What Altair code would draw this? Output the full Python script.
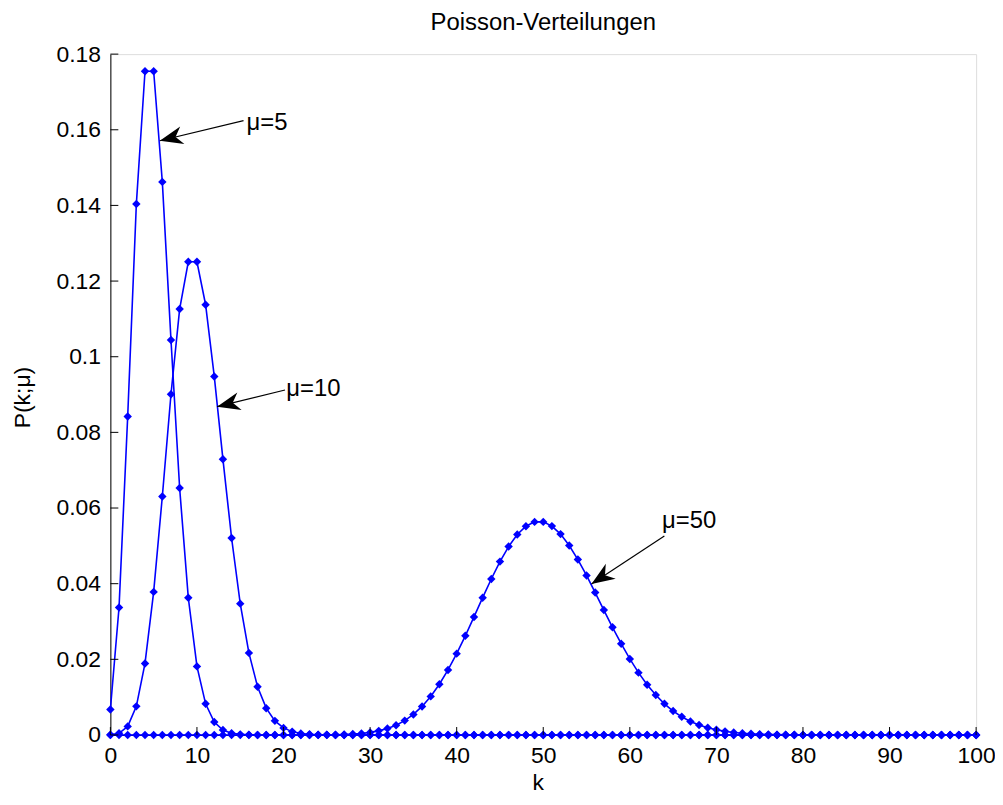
import math
import altair as alt
import pandas as pd

# ---------------- data ----------------
k_values = list(range(0, 101))

p_mu5 = [
    0.00674, 0.03369, 0.08422, 0.14037, 0.17547, 0.17547, 0.14622, 0.10444, 0.06528, 0.03627,
    0.01813, 0.00824, 0.00343, 0.00132, 0.00047, 0.00016, 0.00005, 0.00001, 0.0, 0.0,
    0.0, 0.0, 0.0, 0.0, 0.0, 0.0, 0.0, 0.0, 0.0, 0.0,
    0.0, 0.0, 0.0, 0.0, 0.0, 0.0, 0.0, 0.0, 0.0, 0.0,
    0.0, 0.0, 0.0, 0.0, 0.0, 0.0, 0.0, 0.0, 0.0, 0.0,
    0.0, 0.0, 0.0, 0.0, 0.0, 0.0, 0.0, 0.0, 0.0, 0.0,
    0.0, 0.0, 0.0, 0.0, 0.0, 0.0, 0.0, 0.0, 0.0, 0.0,
    0.0, 0.0, 0.0, 0.0, 0.0, 0.0, 0.0, 0.0, 0.0, 0.0,
    0.0, 0.0, 0.0, 0.0, 0.0, 0.0, 0.0, 0.0, 0.0, 0.0,
    0.0, 0.0, 0.0, 0.0, 0.0, 0.0, 0.0, 0.0, 0.0, 0.0,
    0.0,
]

p_mu10 = [
    0.00005, 0.00045, 0.00227, 0.00757, 0.01892, 0.03783, 0.06306, 0.09008, 0.11260, 0.12511,
    0.12511, 0.11374, 0.09478, 0.07291, 0.05208, 0.03472, 0.02170, 0.01276, 0.00709, 0.00373,
    0.00187, 0.00089, 0.00040, 0.00018, 0.00007, 0.00003, 0.00001, 0.0, 0.0, 0.0,
    0.0, 0.0, 0.0, 0.0, 0.0, 0.0, 0.0, 0.0, 0.0, 0.0,
    0.0, 0.0, 0.0, 0.0, 0.0, 0.0, 0.0, 0.0, 0.0, 0.0,
    0.0, 0.0, 0.0, 0.0, 0.0, 0.0, 0.0, 0.0, 0.0, 0.0,
    0.0, 0.0, 0.0, 0.0, 0.0, 0.0, 0.0, 0.0, 0.0, 0.0,
    0.0, 0.0, 0.0, 0.0, 0.0, 0.0, 0.0, 0.0, 0.0, 0.0,
    0.0, 0.0, 0.0, 0.0, 0.0, 0.0, 0.0, 0.0, 0.0, 0.0,
    0.0, 0.0, 0.0, 0.0, 0.0, 0.0, 0.0, 0.0, 0.0, 0.0,
    0.0,
]

p_mu50 = [
    0.0, 0.0, 0.0, 0.0, 0.0, 0.0, 0.0, 0.0, 0.0, 0.0,
    0.0, 0.0, 0.0, 0.0, 0.0, 0.0, 0.0, 0.0, 0.0, 0.0,
    0.0, 0.0, 0.0, 0.0, 0.00002, 0.00004, 0.00007, 0.00013, 0.00024, 0.00041,
    0.00068, 0.00109, 0.00171, 0.00259, 0.00380, 0.00543, 0.00755, 0.01020, 0.01342, 0.01720,
    0.02150, 0.02622, 0.03121, 0.03630, 0.04124, 0.04583, 0.04981, 0.05299, 0.05520, 0.05633,
    0.05633, 0.05522, 0.05310, 0.05009, 0.04638, 0.04217, 0.03765, 0.03302, 0.02847, 0.02413,
    0.02011, 0.01648, 0.01329, 0.01055, 0.00824, 0.00634, 0.00480, 0.00358, 0.00264, 0.00191,
    0.00136, 0.00096, 0.00067, 0.00046, 0.00031, 0.00021, 0.00014, 0.00009, 0.00006, 0.00004,
    0.00002, 0.00001, 0.0, 0.0, 0.0, 0.0, 0.0, 0.0, 0.0, 0.0,
    0.0, 0.0, 0.0, 0.0, 0.0, 0.0, 0.0, 0.0, 0.0, 0.0,
    0.0,
]

series_names = ["mu5", "mu10", "mu50"]

x_ticks = [0, 10, 20, 30, 40, 50, 60, 70, 80, 90, 100]
y_ticks = [0, 0.02, 0.04, 0.06, 0.08, 0.1, 0.12, 0.14, 0.16, 0.18]

# annotations (data coordinates)
ann_label = ["μ=5", "μ=10", "μ=50"]
ann_tip_k = [5.71, 12.32, 55.57]
ann_tip_p = [0.1571, 0.0868, 0.0399]
ann_tail_k = [15.38, 20.17, 63.99]
ann_tail_p = [0.1624, 0.0912, 0.0526]
ann_text_k = [15.73, 20.32, 63.72]
ann_text_p = [0.1617, 0.0914, 0.0566]

# ---------------- layout ----------------
W, H = 871, 685
X_MAX, Y_MAX = 100, 0.18
FONT = "Liberation Sans"
BLUE = "#0000ff"

assert len(p_mu5) == len(p_mu10) == len(p_mu50) == len(k_values)

rows = []
for name, vals in zip(series_names, [p_mu5, p_mu10, p_mu50]):
    for kk, pp in zip(k_values, vals):
        rows.append({"k": kk, "P": pp, "series": name})
df = pd.DataFrame(rows)

ann = pd.DataFrame({
    "label": ann_label,
    "tip_k": ann_tip_k, "tip_p": ann_tip_p,
    "tail_k": ann_tail_k, "tail_p": ann_tail_p,
    "text_k": ann_text_k, "text_p": ann_text_p,
})
sx, sy = W / X_MAX, H / Y_MAX
ann["angle"] = [
    math.degrees(math.atan2(-(tp - lp) * sy, (tk - lk) * sx)) % 360
    for tk, tp, lk, lp in zip(ann.tip_k, ann.tip_p, ann.tail_k, ann.tail_p)
]

xscale = alt.Scale(domain=[0, X_MAX], nice=False, zero=False)
yscale = alt.Scale(domain=[0, Y_MAX], nice=False, zero=False)

x_axis = alt.Axis(
    values=x_ticks, tickSize=0, grid=False, labelFontSize=23, labelFont=FONT,
    labelColor="black", labelPadding=10, labelFlush=False,
    domainColor="black", domainWidth=1,
    title="k", titleFont=FONT, titleFontSize=23, titleFontWeight="normal",
    titleColor="black", titleX=430, titleY=55, titleBaseline="alphabetic",
)
y_axis = alt.Axis(
    values=y_ticks, format="~g", tickSize=0, grid=False, labelFontSize=23,
    labelFont=FONT, labelColor="black", labelPadding=10, labelFlush=False,
    domainColor="black", domainWidth=1,
    title="P(k;μ)", titleFont=FONT, titleFontSize=23, titleFontWeight="normal",
    titleColor="black", titleAngle=270, titleX=-81, titleY=345,
    titleBaseline="alphabetic",
)

base = alt.Chart(df)

lines = base.mark_line(color=BLUE, strokeWidth=1.6).encode(
    x=alt.X("k:Q", scale=xscale, axis=x_axis),
    y=alt.Y("P:Q", scale=yscale, axis=y_axis),
    detail="series:N",
    order="k:Q",
)
points = base.mark_point(shape="diamond", filled=True, size=72, color=BLUE, opacity=1).encode(
    x="k:Q", y="P:Q",
)

xt = alt.Chart(pd.DataFrame({"t": x_ticks})).mark_rule(color="black", strokeWidth=1).encode(
    x="t:Q", y=alt.value(H), y2=alt.value(H - 8)
)
yt = alt.Chart(pd.DataFrame({"t": y_ticks})).mark_rule(color="black", strokeWidth=1).encode(
    y="t:Q", x=alt.value(0), x2=alt.value(8)
)

ann_base = alt.Chart(ann)
ann_lines = ann_base.mark_rule(color="black", strokeWidth=1.2).encode(
    x="tail_k:Q", y="tail_p:Q", x2="tip_k:Q", y2="tip_p:Q"
)
arrow_heads = ann_base.mark_point(
    shape="M0,0 L-2,-0.78 L-1.4,0 L-2,0.78 Z", filled=True, color="black",
    size=540, opacity=1, strokeWidth=0,
).encode(
    x="tip_k:Q", y="tip_p:Q", angle=alt.Angle("angle:Q", scale=None)
)
ann_text = ann_base.mark_text(
    align="left", baseline="middle", font=FONT, fontSize=24, color="black"
).encode(x="text_k:Q", y="text_p:Q", text="label:N")

chart = alt.layer(lines, points, xt, yt, ann_lines, arrow_heads, ann_text).properties(
    width=W, height=H,
    title=alt.TitleParams(
        "Poisson-Verteilungen", font=FONT, fontSize=24, fontWeight="normal",
        color="black", anchor="middle", offset=8,
    ),
    autosize=alt.AutoSizeParams(type="none"),
    padding={"left": 103, "top": 44, "right": 19, "bottom": 60},
).configure_view(stroke=None).configure(background="white")

chart.save("out.html", embed_options={"renderer": "svg", "actions": False})
